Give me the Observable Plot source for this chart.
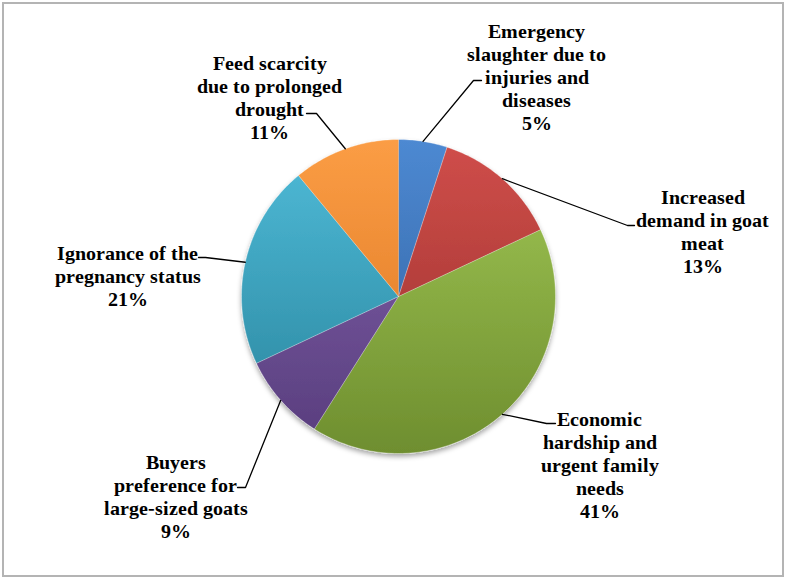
<!DOCTYPE html>
<html><head><meta charset="utf-8">
<script src="https://cdn.jsdelivr.net/npm/d3@7"></script>
<script src="https://cdn.jsdelivr.net/npm/@observablehq/plot@0.6"></script>
<style>
@font-face{font-family:"LabelSerif";font-weight:700;src:local("Liberation Serif Bold"),local("LiberationSerif-Bold"),local("DejaVu Serif Bold"),local("DejaVuSerif-Bold");}
@font-face{font-family:"LabelSerif";font-weight:400;src:local("Liberation Serif"),local("LiberationSerif"),local("DejaVu Serif"),local("DejaVuSerif");}
html,body{margin:0;padding:0;background:#fff}
</style>
</head><body><div id="chart"></div>
<script>
// ---- data ----
const categories = [
  "Emergency slaughter due to injuries and diseases",
  "Increased demand in goat meat",
  "Economic hardship and urgent family needs",
  "Buyers preference for large-sized goats",
  "Ignorance of the pregnancy status",
  "Feed scarcity due to prolonged drought"
];
const labelLines = [
  ["Emergency", "slaughter due to", "injuries and", "diseases"],
  ["Increased", "demand in goat", "meat"],
  ["Economic", "hardship and", "urgent family", "needs"],
  ["Buyers", "preference for", "large-sized goats"],
  ["Ignorance of the", "pregnancy status"],
  ["Feed scarcity", "due to prolonged", "drought"]
];
const percents = [5, 13, 41, 9, 21, 11];

// ---- style / layout ----
const sliceColors = [
  ["#4d89d2", "#2d5c99"],
  ["#d04e4a", "#962e2c"],
  ["#a2c855", "#6e8e2f"],
  ["#8565ae", "#573c7c"],
  ["#50bcd9", "#27829a"],
  ["#fb9d45", "#d9721d"]
];
const W = 785, H = 578;
const CX = 398, CY = 296, R = 157;
const FONT = "LabelSerif, 'Liberation Serif', 'DejaVu Serif', serif";
const labelLayout = [
  {x: 536, y: 76,  elbow: [473, 80],  end: [481, 80]},
  {x: 702, y: 231, elbow: [627, 225], end: [634, 225]},
  {x: 599, y: 464, elbow: [546, 423], end: [555, 423]},
  {x: 175, y: 496, elbow: [245, 487], end: [237, 487]},
  {x: 127, y: 275, elbow: [205, 257], end: [198, 257]},
  {x: 269, y: 97,  elbow: [316, 113], end: [306, 113]}
];

// ---- geometry from data ----
const arcs = d3.pie().sort(null).value(d => d)(percents);
const slicePts = [];
const leaderPts = [];
arcs.forEach((a, i) => {
  const cat = categories[i];
  slicePts.push({cat, x: CX, y: CY});
  const n = Math.max(2, Math.ceil((a.endAngle - a.startAngle) / (Math.PI / 180)));
  for (let k = 0; k <= n; k++) {
    const t = a.startAngle + (a.endAngle - a.startAngle) * k / n;
    slicePts.push({cat, x: CX + R * Math.sin(t), y: CY - R * Math.cos(t)});
  }
  const m = (a.startAngle + a.endAngle) / 2;
  const L = labelLayout[i];
  leaderPts.push({cat, x: CX + R * Math.sin(m), y: CY - R * Math.cos(m)});
  leaderPts.push({cat, x: L.elbow[0], y: L.elbow[1]});
  leaderPts.push({cat, x: L.end[0], y: L.end[1]});
});
const labels = categories.map((cat, i) => ({
  cat,
  x: labelLayout[i].x,
  y: labelLayout[i].y,
  text: [...labelLines[i], `${percents[i]}%`].join("\n")
}));

const plot = Plot.plot({
  width: W, height: H, margin: 0,
  style: {background: "#fff", fontFamily: FONT},
  x: {domain: [0, W], range: [0, W], axis: null},
  y: {domain: [0, H], range: [0, H], axis: null},
  color: {domain: categories, range: categories.map((_, i) => `url(#grad${i})`)},
  marks: [
    Plot.frame({stroke: "#b4b4b4", strokeWidth: 2, inset: 2.5}),
    Plot.line(slicePts, {x: "x", y: "y", z: "cat", fill: "cat", stroke: "rgba(255,255,255,0.35)", strokeWidth: 1, strokeLinejoin: "round"}),
    Plot.line(leaderPts, {x: "x", y: "y", z: "cat", stroke: "#000", strokeWidth: 1.3}),
    Plot.text(labels, {x: "x", y: "y", text: "text", fontSize: 20, fontWeight: "bold", fontFamily: FONT, lineHeight: 1.15, fill: "#000", textAnchor: "middle"})
  ]
});

// gradients and shadow
const svg = d3.select(plot);
const defs = svg.insert("defs", ":first-child");
sliceColors.forEach(([light, dark], i) => {
  const g = defs.append("linearGradient").attr("id", `grad${i}`)
    .attr("gradientUnits", "userSpaceOnUse")
    .attr("x1", 0).attr("y1", CY - R).attr("x2", 0).attr("y2", CY + R);
  g.append("stop").attr("offset", 0).attr("stop-color", light);
  g.append("stop").attr("offset", 1).attr("stop-color", dark);
});
const f = defs.append("filter").attr("id", "shadow").attr("x", "-10%").attr("y", "-10%").attr("width", "120%").attr("height", "125%");
f.append("feDropShadow").attr("dx", 0).attr("dy", 3).attr("stdDeviation", 2.5).attr("flood-color", "#000").attr("flood-opacity", 0.35);
svg.selectAll("g[aria-label='line']").filter((d, i) => i === 0).attr("filter", "url(#shadow)");

document.getElementById("chart").appendChild(plot);
</script>
</body></html>
